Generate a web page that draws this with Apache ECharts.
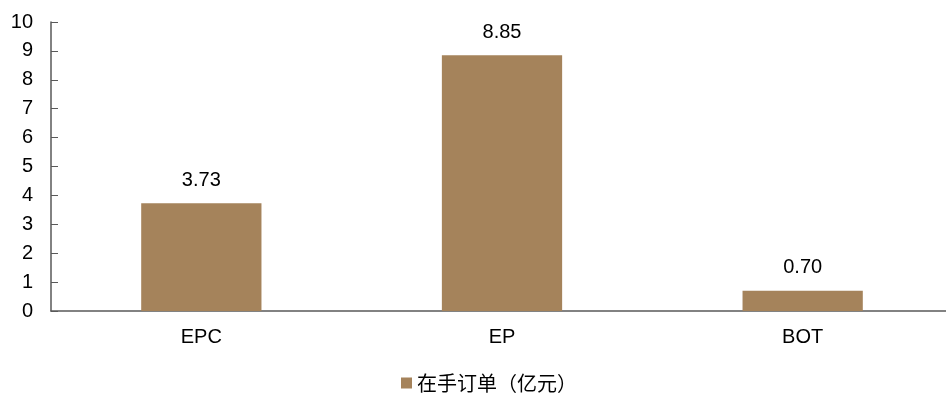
<!DOCTYPE html>
<html>
<head>
<meta charset="utf-8">
<script src="https://cdn.jsdelivr.net/npm/echarts@6/dist/echarts.min.js"></script>
<style>
  html, body { margin: 0; padding: 0; background: #ffffff; overflow: hidden; }
  /* plot runs a little past the right edge, like the source picture */
  #chart { width: 953px; height: 394px; }
</style>
</head>
<body>
<div id="chart"></div>
<script>
const categories = ["EPC", "EP", "BOT"];
const orderValues = [3.73, 8.85, 0.70];
const seriesName = "在手订单（亿元）";

const chart = echarts.init(document.getElementById("chart"));
const axisColor = "#595959";
const option = {
  animation: false,
  grid: { left: 51, right: 0, top: 22, bottom: 83 },
  legend: {
    data: [seriesName],
    bottom: -4,
    left: 396,
    icon: "rect",
    itemWidth: 11,
    itemHeight: 11,
    itemGap: 6,
    textStyle: { fontFamily: "Noto Sans CJK SC", fontSize: 20, color: "#000" },
  },
  xAxis: {
    type: "category",
    data: categories,
    axisLine: { lineStyle: { color: axisColor, width: 1.5 } },
    axisTick: { inside: true, length: 6, lineStyle: { color: axisColor } },
    axisLabel: { fontFamily: "Liberation Sans", fontSize: 20, color: "#000", margin: 16 },
  },
  yAxis: {
    type: "value",
    min: 0,
    max: 10,
    interval: 1,
    splitLine: { show: false },
    axisLine: { show: true, lineStyle: { color: axisColor, width: 1.5 } },
    axisTick: { show: true, inside: true, length: 7, lineStyle: { color: axisColor } },
    axisLabel: { fontFamily: "Liberation Sans", fontSize: 20, color: "#000", margin: 18 },
  },
  series: [
    {
      name: seriesName,
      type: "bar",
      data: orderValues,
      barWidth: "40%",
      itemStyle: { color: "#A5835B" },
      label: {
        show: true,
        position: "top",
        distance: 13,
        fontFamily: "Liberation Sans",
        fontSize: 20,
        color: "#000",
        formatter: (p) => p.value.toFixed(2),
      },
    },
  ],
};
chart.setOption(option);
</script>
</body>
</html>
